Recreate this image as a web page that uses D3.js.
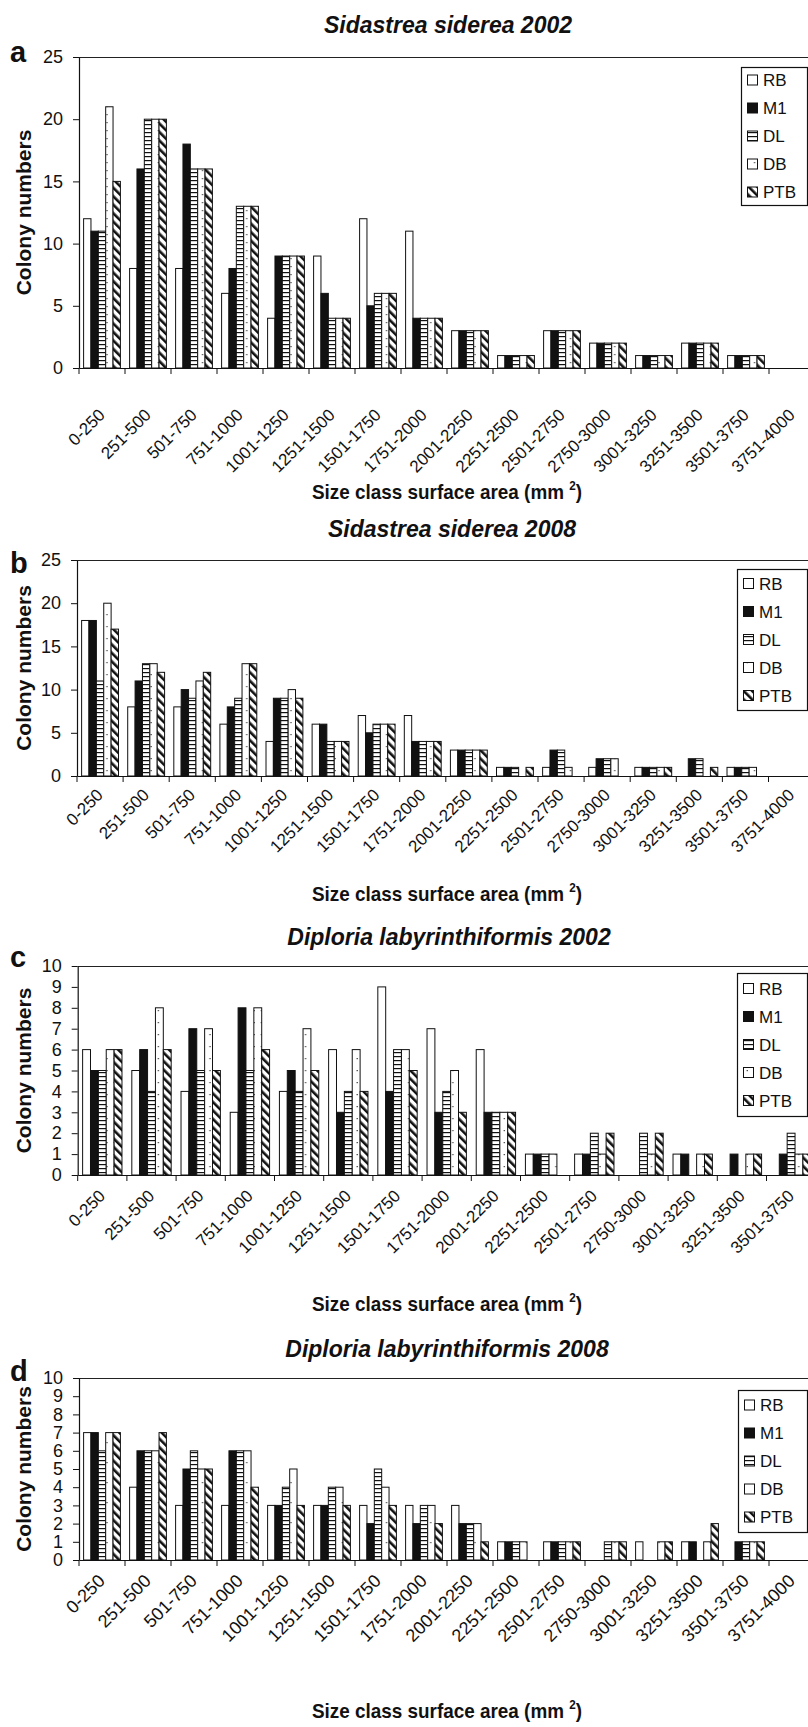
<!DOCTYPE html>
<html><head><meta charset="utf-8">
<script src="https://cdn.jsdelivr.net/npm/d3@7"></script>
<style>
body{margin:0;background:#fff}
svg text{font-family:"Liberation Sans",Arial,Helvetica,sans-serif;fill:#111}
</style>
</head><body>
<svg id="chart" width="808" height="1727"></svg>
<script>
// ---------- DATA ----------
const categories = ["0-250","251-500","501-750","751-1000","1001-1250","1251-1500","1501-1750","1751-2000","2001-2250","2251-2500","2501-2750","2750-3000","3001-3250","3251-3500","3501-3750","3751-4000"];
const categoriesC = categories.slice(0, 15);
const series = ["RB","M1","DL","DB","PTB"];
const yTicks25 = [0,5,10,15,20,25];
const yTicks10 = [0,1,2,3,4,5,6,7,8,9,10];
const titles = ["Sidastrea siderea 2002","Sidastrea siderea 2008","Diploria labyrinthiformis 2002","Diploria labyrinthiformis 2008"];
const panelLetters = ["a","b","c","d"];
const yTitle = "Colony numbers";
const xTitle = "Size class surface area (mm ";

// (a) Sidastrea siderea 2002
const sid02_RB  = [12,8,8,6,4,9,12,11,3,1,3,2,1,2,1,0];
const sid02_M1  = [11,16,18,8,9,6,5,4,3,1,3,2,1,2,1,0];
const sid02_DL  = [11,20,16,13,9,4,6,4,3,1,3,2,1,2,1,0];
const sid02_DB  = [21,20,16,13,9,4,6,4,3,1,3,2,1,2,1,0];
const sid02_PTB = [15,20,16,13,9,4,6,4,3,1,3,2,1,2,1,0];
// (b) Sidastrea siderea 2008
const sid08_RB  = [18,8,8,6,4,6,7,7,3,1,1,1,1,0,1,0];
const sid08_M1  = [18,11,10,8,9,6,5,4,3,1,3,2,1,2,1,0];
const sid08_DL  = [11,13,9,9,9,4,6,4,3,1,3,2,1,2,1,0];
const sid08_DB  = [20,13,11,13,10,4,6,4,3,0,1,2,1,0,1,0];
const sid08_PTB = [17,12,12,13,9,4,6,4,3,1,0,0,1,1,0,0];
// (c) Diploria labyrinthiformis 2002
const dip02_RB  = [6,5,4,3,4,6,9,7,6,1,1,0,1,0,0];
const dip02_M1  = [5,6,7,8,5,3,4,3,3,1,1,0,1,1,1];
const dip02_DL  = [5,4,5,5,4,4,6,4,3,1,2,2,0,0,2];
const dip02_DB  = [6,8,7,8,7,6,6,5,3,1,1,1,1,1,1];
const dip02_PTB = [6,6,5,6,5,4,5,3,3,0,2,2,1,1,1];
// (d) Diploria labyrinthiformis 2008
const dip08_RB  = [7,4,3,3,3,3,3,3,3,1,1,0,1,1,0,0];
const dip08_M1  = [7,6,5,6,3,3,2,2,2,1,1,0,0,1,1,0];
const dip08_DL  = [6,6,6,6,4,4,5,3,2,1,1,1,0,0,1,0];
const dip08_DB  = [7,6,5,6,5,4,4,3,2,1,1,1,1,1,1,0];
const dip08_PTB = [7,7,5,4,3,3,3,2,1,0,1,1,1,2,1,0];

// ---------- LAYOUT ----------
const panels = [
  {cats:categories,  vals:[sid02_RB,sid02_M1,sid02_DL,sid02_DB,sid02_PTB], ticks:yTicks25,
   top:57,  bottom:368,  x0:79,   band:46,   titleX:448, titleY:33,   letterY:62,
   leg:{x:741,y:67,w:66,h:138}, xTitleY:499, dot:8, labDy:48, labFont:17},
  {cats:categories,  vals:[sid08_RB,sid08_M1,sid08_DL,sid08_DB,sid08_PTB], ticks:yTicks25,
   top:560, bottom:776,  x0:77,   band:46.1, titleX:452, titleY:537,  letterY:573,
   leg:{x:737,y:569,w:70,h:141}, xTitleY:901, dot:12, labDy:20, labFont:17},
  {cats:categoriesC, vals:[dip02_RB,dip02_M1,dip02_DL,dip02_DB,dip02_PTB], ticks:yTicks10,
   top:966, bottom:1175, x0:77.7, band:49.2, titleX:449, titleY:945,  letterY:967,
   leg:{x:737,y:973,w:70,h:143}, xTitleY:1311, dot:12, labDy:22, labFont:17},
  {cats:categories,  vals:[dip08_RB,dip08_M1,dip08_DL,dip08_DB,dip08_PTB], ticks:yTicks10,
   top:1378,bottom:1560, x0:79,   band:46,   titleX:447, titleY:1357, letterY:1381,
   leg:{x:738,y:1390,w:69,h:142}, xTitleY:1718, dot:20, labDy:22, labFont:18}
];

const svg = d3.select("#chart");
const defs = svg.append("defs");

// patterns
const pDL = defs.append("pattern").attr("id","pDL").attr("patternUnits","userSpaceOnUse").attr("width",4).attr("height",4);
pDL.append("rect").attr("width",4).attr("height",4).attr("fill","#fff");
pDL.append("rect").attr("y",0).attr("width",4).attr("height",1.2).attr("fill","#111");

const pPTB = defs.append("pattern").attr("id","pPTB").attr("patternUnits","userSpaceOnUse")
  .attr("width",6).attr("height",6).attr("patternTransform","rotate(-45)");
pPTB.append("rect").attr("width",6).attr("height",6).attr("fill","#fff");
pPTB.append("rect").attr("width",2.6).attr("height",6).attr("fill","#111");

panels.forEach((p,i)=>{
  const pd = defs.append("pattern").attr("id","pDB"+i).attr("patternUnits","userSpaceOnUse")
    .attr("width",7.36).attr("height",p.dot);
  pd.append("rect").attr("width",7.36).attr("height",p.dot).attr("fill","#fff");
  pd.append("rect").attr("x",3.3).attr("y",2).attr("width",1.2).attr("height",1.2).attr("fill","#333");
});

function fillFor(s, i){
  if (s==="RB") return "#fff";
  if (s==="M1") return "#111";
  if (s==="DL") return "url(#pDL)";
  if (s==="DB") return "url(#pDB"+i+")";
  return "url(#pPTB)";
}

panels.forEach((p, pi)=>{
  const g = svg.append("g");
  const n = p.cats.length;
  const x = d3.scaleBand().domain(p.cats).range([p.x0, p.x0 + n*p.band]).paddingInner(0).paddingOuter(0);
  const xs = d3.scaleBand().domain(series).range([x.bandwidth()*0.1, x.bandwidth()*0.9]).padding(0);
  const ymax = p.ticks[p.ticks.length-1];
  const y = d3.scaleLinear().domain([0, ymax]).range([p.bottom, p.top]);

  // plot frame top line
  g.append("line").attr("x1",p.x0).attr("x2",808).attr("y1",p.top+0.5).attr("y2",p.top+0.5)
    .attr("stroke","#222").attr("stroke-width",1.2);

  // bars
  series.forEach((s, si)=>{
    const vals = p.vals[si];
    g.append("g").selectAll("rect")
      .data(p.cats.map((c,k)=>({c, v: vals[k]})).filter(d=>d.v>0))
      .join("rect")
      .attr("x", d=> x(d.c) + xs(s))
      .attr("y", d=> y(d.v))
      .attr("width", xs.bandwidth())
      .attr("height", d=> y(0) - y(d.v))
      .attr("fill", fillFor(s, pi))
      .attr("stroke","#111").attr("stroke-width",1);
  });

  // y axis
  const ya = g.append("g").attr("transform",`translate(${p.x0},0)`)
    .call(d3.axisLeft(y).tickValues(p.ticks).tickSize(6).tickPadding(10).tickSizeOuter(0));
  ya.select(".domain").attr("stroke","#111").attr("stroke-width",1.2);
  ya.selectAll(".tick line").attr("stroke","#111");
  ya.selectAll("text").attr("font-size",18).attr("fill","#111").style("font-family","Liberation Sans, Arial, sans-serif");

  // x axis
  const xa = g.append("g").attr("transform",`translate(0,${p.bottom})`)
    .call(d3.axisBottom(x).tickSize(0).tickPadding(0).tickSizeOuter(0));
  xa.select(".domain").attr("stroke","#111").attr("stroke-width",1.2);
  xa.selectAll(".tick text")
    .attr("font-size",p.labFont).attr("fill","#111")
    .style("font-family","Liberation Sans, Arial, sans-serif")
    .attr("text-anchor","end").attr("dy",0).attr("y",0)
    .attr("transform",`translate(4,${p.labDy}) rotate(-45)`);
  // boundary ticks
  const bounds = p.cats.map(c=>x(c)).concat([x.range()[1]]);
  g.append("g").selectAll("line").data(bounds).join("line")
    .attr("x1",d=>d).attr("x2",d=>d).attr("y1",p.bottom).attr("y2",p.bottom+6)
    .attr("stroke","#111").attr("stroke-width",1);

  // titles
  g.append("text").attr("x",p.titleX).attr("y",p.titleY).attr("text-anchor","middle")
    .attr("font-size",23).attr("font-weight","bold").attr("font-style","italic").text(titles[pi]);
  g.append("text").attr("x",10).attr("y",p.letterY).attr("font-size",29).attr("font-weight","bold").text(panelLetters[pi]);
  g.append("text").attr("transform",`translate(31,${(p.top+p.bottom)/2}) rotate(-90)`)
    .attr("text-anchor","middle").attr("font-size",21).attr("font-weight","bold").text(yTitle);
  const xt = g.append("text").attr("transform",`translate(447,${p.xTitleY}) scale(0.9,1)`).attr("text-anchor","middle")
    .attr("font-size",21).attr("font-weight","bold");
  xt.append("tspan").text(xTitle);
  xt.append("tspan").attr("font-size",13).attr("dy",-9).text("2");
  xt.append("tspan").attr("dy",9).text(")");

  // legend
  const L = p.leg;
  const lg = g.append("g");
  lg.append("rect").attr("x",L.x+0.5).attr("y",L.y+0.5).attr("width",L.w).attr("height",L.h)
    .attr("fill","#fff").attr("stroke","#111").attr("stroke-width",1.2);
  const step = 28;
  const first = L.y + (L.h - step*4)/2;
  series.forEach((s, si)=>{
    const cy = first + si*step;
    lg.append("rect").attr("x",L.x+6.5).attr("y",cy-5).attr("width",10).attr("height",10)
      .attr("fill",fillFor(s,pi)).attr("stroke","#111").attr("stroke-width",1);
    lg.append("text").attr("x",L.x+22).attr("y",cy+6).attr("font-size",17).text(s);
  });
});
</script>
</body></html>
